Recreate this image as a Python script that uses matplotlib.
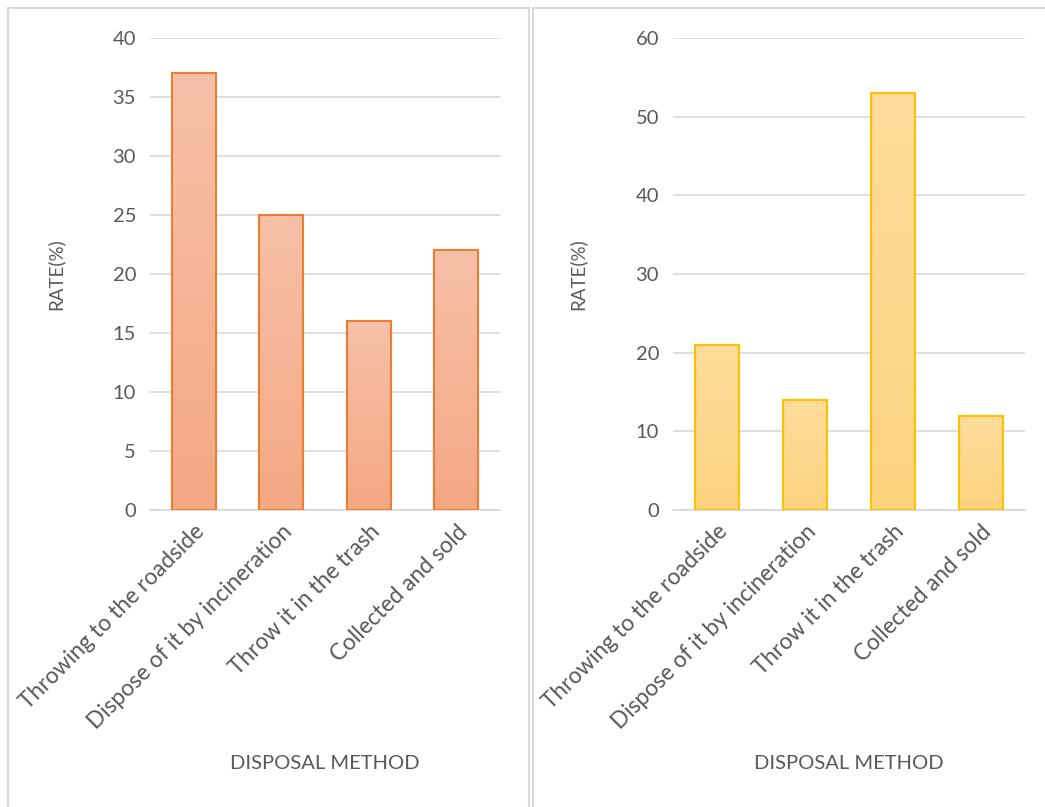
import numpy as np
import matplotlib.pyplot as plt
from matplotlib.patches import Rectangle
from matplotlib.colors import LinearSegmentedColormap

plt.rcParams['font.family'] = ['Lato', 'DejaVu Sans']

methods = ["Throwing to the roadside", "Dispose of it by incineration",
           "Throw it in the trash", "Collected and sold"]
rate_left = [37, 25, 16, 22]
rate_right = [21, 14, 53, 12]

TEXT = '#595959'
GRID = '#d9d9d9'

W, H = 1045, 807
fig = plt.figure(figsize=(W / 100, H / 100), dpi=100)


def px_axes(x0, y0, x1, y1):
    return fig.add_axes([x0 / W, 1 - y1 / H, (x1 - x0) / W, (y1 - y0) / H])


# panel frames
for x0, x1 in [(8, 529), (533, 1060)]:
    frame = Rectangle((x0 / W, -0.05), (x1 - x0) / W, 1.05 - 8 / H,
                      transform=fig.transFigure, fill=False,
                      edgecolor='#d9d9d9', linewidth=1.5)
    fig.add_artist(frame)


def gradient_bars(ax, values, top_col, bot_col, edge):
    cmap = LinearSegmentedColormap.from_list('g', [bot_col, top_col])
    grad = np.linspace(0, 1, 256).reshape(-1, 1)
    for i, v in enumerate(values):
        x0, x1 = i - 0.25, i + 0.25
        im = ax.imshow(grad, cmap=cmap, origin='lower', aspect='auto',
                       extent=(x0, x1, 0, v), zorder=2)
        rect = Rectangle((x0, 0), 0.5, v, facecolor='none',
                         edgecolor=edge, linewidth=1.5, zorder=3)
        ax.add_patch(rect)
        im.set_clip_path(rect)


def style(ax, ymax, step):
    ax.set_xlim(-0.5, 3.5)
    ax.set_ylim(0, ymax)
    ax.set_yticks(np.arange(0, ymax + 1, step))
    ax.yaxis.grid(True, color=GRID, linewidth=1.2, zorder=0)
    ax.set_axisbelow(True)
    for s in ['top', 'right', 'left']:
        ax.spines[s].set_visible(False)
    ax.spines['bottom'].set_color(GRID)
    ax.spines['bottom'].set_linewidth(1.2)
    ax.tick_params(axis='y', length=0, colors=TEXT, labelsize=14.5, pad=10)
    ax.tick_params(axis='x', length=0, colors=TEXT, pad=8)
    ax.set_xticks(range(len(methods)))
    ax.set_xticklabels(methods, rotation=45, ha='right', rotation_mode='anchor',
                       fontsize=16.3)
    ax.set_ylabel('RATE(%)', color=TEXT, fontsize=13.5)
    ax.set_xlabel('DISPOSAL METHOD', color=TEXT, fontsize=14.5)


ax1 = px_axes(150, 38, 500, 510)
gradient_bars(ax1, rate_left, '#f7c0a8', '#f4a884', '#ed7d31')
style(ax1, 40, 5)

ax2 = px_axes(673, 38, 1025, 510)
gradient_bars(ax2, rate_right, '#fedc9c', '#fdd37f', '#ffc000')
style(ax2, 60, 10)

for ax in (ax1, ax2):
    ax.xaxis.set_label_coords(0.5, -0.52)
    ax.yaxis.set_label_coords(-0.245, 0.5)

fig.savefig('out.png', dpi=100)
